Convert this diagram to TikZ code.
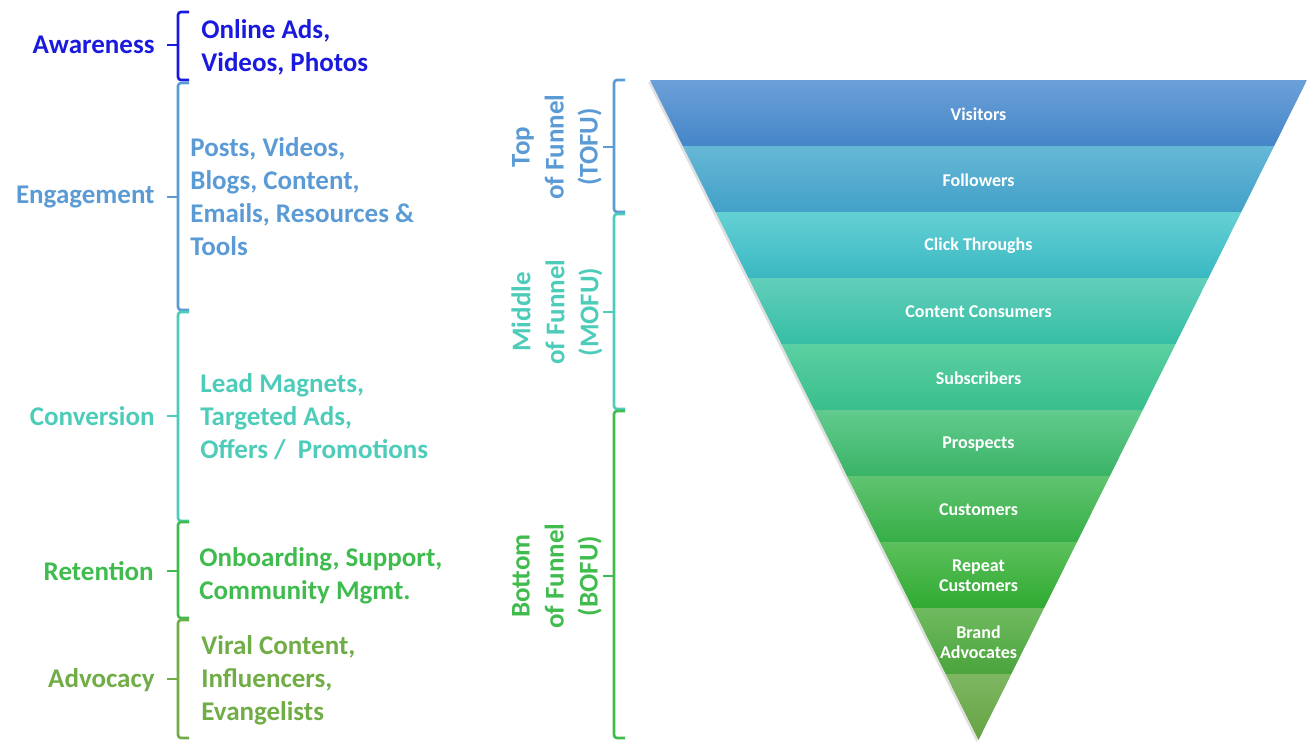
\documentclass[tikz,border=0pt]{standalone}
\usepackage{fontspec}
\setmainfont{Carlito}
\usepackage{tikz}
\usetikzlibrary{positioning}

\definecolor{awareblue}{RGB}{26,26,222}
\definecolor{engageblue}{RGB}{91,155,213}
\definecolor{convteal}{RGB}{78,204,186}
\definecolor{retgreen}{RGB}{64,188,78}
\definecolor{advgreen}{RGB}{112,173,71}

\tikzset{
  stage/.style={anchor=east, inner sep=0pt, font=\bfseries\fontsize{13.5}{16.5}\selectfont},
  items/.style={anchor=west, inner sep=0pt, align=left, font=\bfseries\fontsize{13.5}{16.5}\selectfont},
  phase/.style={rotate=90, align=center, font=\bfseries\fontsize{13.5}{17}\selectfont},
  bandlabel/.style={text=white, align=center, font=\bfseries\fontsize{9}{10}\selectfont},
  bracket/.style={line width=1.3pt, rounded corners=1.5pt},
}

\begin{document}
\begin{tikzpicture}[x=0.5pt, y=-0.5pt]
  \useasboundingbox (0,0) rectangle (1307,741);

  % left brackets: top / middle / bottom / colour
  \foreach \t/\m/\b/\c in {12/45/80/awareblue, 83/197/310/engageblue,
                           312/416/521/convteal, 522/571/618/retgreen,
                           620/679/738/advgreen}
  {
    \draw[bracket, \c] (189,\t) -- (178,\t) -- (178,\b) -- (189,\b);
    \draw[bracket, \c] (178,\m) -- (167,\m);
  }

  % funnel phase brackets
  \foreach \t/\m/\b/\c in {80/147/212/engageblue, 214/312/409/convteal,
                           411/576/738/retgreen}
  {
    \draw[bracket, \c] (625,\t) -- (614,\t) -- (614,\b) -- (625,\b);
    \draw[bracket, \c] (614,\m) -- (603,\m);
  }

  % stages
  \node[stage, text=awareblue] (aware) at (155,45) {Awareness};
  \node[stage, text=engageblue] (engage) at (155,197) {Engagement};
  \node[stage, text=convteal] (convert) at (155,416) {Conversion};
  \node[stage, text=retgreen] (retain) at (154,571) {Retention};
  \node[stage, text=advgreen] (advocate) at (155,680) {Advocacy};

  % what each stage uses
  \node[items, text=awareblue] (awareitems) at (201,47) {Online Ads,\\Videos, Photos};
  \node[items, text=engageblue] (engageitems) at (190,197) {Posts, Videos,\\Blogs, Content,\\Emails, Resources \&\\Tools};
  \node[items, text=convteal] (convertitems) at (200,417) {Lead Magnets,\\Targeted Ads,\\Offers /\ \ Promotions};
  \node[items, text=retgreen] (retainitems) at (199,576) {Onboarding, Support,\\Community Mgmt.};
  \node[items, text=advgreen] (advocateitems) at (201,680) {Viral Content,\\Influencers,\\Evangelists};

  % phases
  \node[phase, text=engageblue] (tofu) at (557,147) {Top\\of Funnel\\(TOFU)};
  \node[phase, text=convteal] (mofu) at (557,312) {Middle\\of Funnel\\(MOFU)};
  \node[phase, text=retgreen] (bofu) at (557,576) {Bottom\\of Funnel\\(BOFU)};

  % funnel shadow
  \fill[black!12] (648,82) -- (1305,82) -- (976.5,742) -- cycle;

  % funnel bands
  \foreach \i/\ctop/\cbot/\lbl in {
      0/{108,160,216}/{68,134,200}/Visitors,
      1/{102,184,214}/{66,160,200}/Followers,
      2/{100,208,212}/{58,184,194}/Click Throughs,
      3/{98,206,186}/{54,190,166}/Content Consumers,
      4/{92,208,162}/{56,190,140}/Subscribers,
      5/{98,202,142}/{58,180,102}/Prospects,
      6/{96,196,112}/{54,174,70}/Customers,
      7/{92,192,92}/{48,170,50}/{Repeat\\Customers},
      8/{112,186,96}/{74,164,60}/{Brand\\Advocates},
      9/{126,182,98}/{100,164,66}/{}}
  {
    \definecolor{bandtop}{RGB}{\ctop}
    \definecolor{bandbot}{RGB}{\cbot}
    \pgfmathsetmacro{\yt}{80+66*\i}
    \pgfmathsetmacro{\yb}{146+66*\i}
    \pgfmathsetmacro{\wt}{328.5-32.85*\i}
    \pgfmathsetmacro{\wb}{328.5-32.85*(\i+1)}
    \shade[top color=bandtop, bottom color=bandbot]
      (978.5-\wt,\yt) -- (978.5+\wt,\yt) -- (978.5+\wb,\yb) -- (978.5-\wb,\yb) -- cycle;
    \node[bandlabel] (band\i) at (978.5,{114+66*\i}) {\lbl};
  }
\end{tikzpicture}
\end{document}
